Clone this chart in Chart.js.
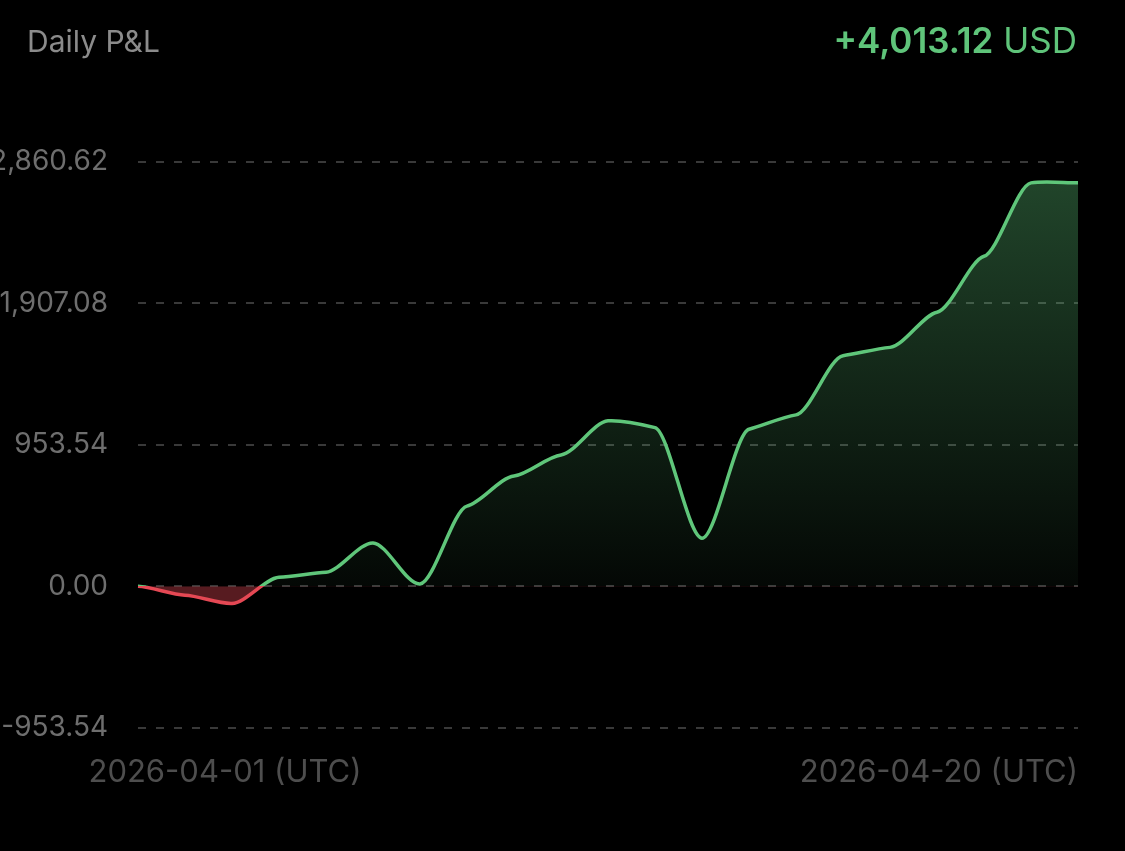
<!DOCTYPE html>
<html>
<head>
<meta charset="utf-8">
<script src="https://cdn.jsdelivr.net/npm/chart.js@4.4.1/dist/chart.umd.min.js"></script>
<style>
  html, body { margin: 0; padding: 0; background: #000; width: 1125px; height: 851px; overflow: hidden; }
  #c { position: absolute; left: 0; top: 0; }
  .hdr { position: absolute; line-height: 1; white-space: nowrap; font-family: Inter, "Noto Sans", sans-serif; }
  #title { left: 27px; top: 26px; font-size: 30px; color: #8b8b8b; }
  #total { right: 48px; top: 23px; font-size: 35px; color: #5fc47a; }
  #total b { font-weight: 600; }
</style>
</head>
<body>
<canvas id="c" width="1125" height="851"></canvas>
<div id="title" class="hdr"></div>
<div id="total" class="hdr"><b id="totalVal"></b> <span id="totalCur"></span></div>
<script>
// ---- data ----
const titleText = 'Daily P&L';
const totalValue = '+4,013.12';
const totalCurrency = 'USD';

const dates = [
  '2026-03-31', '2026-04-01', '2026-04-02', '2026-04-03', '2026-04-04', '2026-04-05',
  '2026-04-06', '2026-04-07', '2026-04-08', '2026-04-09', '2026-04-10', '2026-04-11',
  '2026-04-12', '2026-04-13', '2026-04-14', '2026-04-15', '2026-04-16', '2026-04-17',
  '2026-04-18', '2026-04-19', '2026-04-20'
];
const pnl = [
  0, -60, -115, 61, 95, 293, 16, 541, 744, 886, 1116,
  1070, 325, 1059, 1156, 1555, 1611, 1848, 2225, 2720, 2720
];
const yTicks = [-953.54, 0, 953.54, 1907.08, 2860.62];
const firstTickIndex = 1;
const lastTickIndex = 20;
const tickSuffix = ' (UTC)';

// ---- styles ----
const GREEN = 'rgb(95,198,122)';
const RED = 'rgb(229,72,84)';
const FONT = 'Inter, "Noto Sans", sans-serif';
const HANDLE = 0.3;   // control-handle length as a fraction of point spacing
const SLOPE = 0.2;    // fraction of the neighbouring slope kept at each point

document.getElementById('title').textContent = titleText;
document.getElementById('totalVal').textContent = totalValue;
document.getElementById('totalCur').textContent = totalCurrency;

function lineGradient(ctx) {
  const chart = ctx.chart;
  const a = chart.chartArea;
  if (!a) return GREEN;
  const z = chart.scales.y.getPixelForValue(0);
  const f = Math.min(1, Math.max(0, (z - a.top) / (a.bottom - a.top)));
  const g = chart.ctx.createLinearGradient(0, a.top, 0, a.bottom);
  g.addColorStop(0, GREEN);
  g.addColorStop(f, GREEN);
  g.addColorStop(f, RED);
  g.addColorStop(1, RED);
  return g;
}
function fillGradient(ctx) {
  const chart = ctx.chart;
  const a = chart.chartArea;
  if (!a) return 'rgba(95,198,122,0.2)';
  const z = chart.scales.y.getPixelForValue(0);
  const g = chart.ctx.createLinearGradient(0, a.top, 0, z);
  g.addColorStop(0, 'rgba(95,198,122,0.36)');
  g.addColorStop(1, 'rgba(95,198,122,0.04)');
  return g;
}

// softened curve: short, nearly flat handles at each point (from the library's own point elements)
const softCurvePlugin = {
  id: 'softCurve',
  beforeDatasetsDraw(chart) {
    chart.getSortedVisibleDatasetMetas().forEach(meta => {
      const pts = meta.data;
      for (let i = 0; i < pts.length; i++) {
        const p = pts[i];
        const prev = pts[i - 1] || p;
        const next = pts[i + 1] || p;
        const span = next.x - prev.x;
        const m = span ? SLOPE * (next.y - prev.y) / span : 0;
        const d1 = HANDLE * (p.x - prev.x);
        const d2 = HANDLE * (next.x - p.x);
        p.cp1x = p.x - d1; p.cp1y = p.y - m * d1;
        p.cp2x = p.x + d2; p.cp2y = p.y + m * d2;
      }
      if (meta.dataset) meta.dataset._path = undefined;
    });
  }
};

// put the two bottom category axes on the same row
const overlayAxisPlugin = {
  id: 'overlayAxis',
  afterLayout(chart) {
    const { x, x2 } = chart.scales;
    x2.top = x.top; x2.bottom = x.bottom; x2.height = x.height;
  }
};

const xTickFont = { family: FONT, size: 31 };
const fmtDate = i => dates[i] + tickSuffix;

new Chart(document.getElementById('c'), {
  type: 'line',
  data: {
    labels: dates,
    datasets: [{
      data: pnl,
      borderColor: lineGradient,
      backgroundColor: fillGradient,
      borderWidth: 3.5,
      pointRadius: 0,
      tension: 0.4,
      fill: { target: 'origin', below: 'rgba(229,72,84,0.38)' }
    }]
  },
  plugins: [overlayAxisPlugin, softCurvePlugin],
  options: {
    responsive: false,
    animation: false,
    devicePixelRatio: 1,
    layout: { padding: { top: 162, right: 47, bottom: 34, left: 0 } },
    plugins: { legend: { display: false }, tooltip: { enabled: false } },
    scales: {
      x: {
        weight: 0,
        grid: { display: false, drawTicks: false },
        border: { display: false },
        ticks: {
          autoSkip: false, maxRotation: 0, minRotation: 0,
          align: 'inner', padding: 26,
          color: '#4e4e4e', font: xTickFont,
          callback: (v, i) => i === lastTickIndex ? fmtDate(i) : ''
        }
      },
      x2: {
        type: 'category',
        position: 'bottom',
        weight: 1,
        afterFit: s => { s.height = 0; },
        grid: { display: false, drawTicks: false },
        border: { display: false },
        ticks: {
          autoSkip: false, maxRotation: 0, minRotation: 0,
          padding: 26, labelOffset: 40,
          color: '#4e4e4e', font: xTickFont,
          callback: (v, i) => i === firstTickIndex ? fmtDate(i) : ''
        }
      },
      y: {
        min: yTicks[0],
        max: yTicks[yTicks.length - 1],
        afterBuildTicks: s => { s.ticks = yTicks.map(v => ({ value: v })); },
        afterFit: s => { s.width = 138; },
        grid: { color: '#393939', lineWidth: 2, drawTicks: false },
        border: { display: false, dash: [8, 10] },
        ticks: {
          padding: 30,
          color: '#6e6e6e',
          font: { family: FONT, size: 28 },
          callback: v => Number(v).toLocaleString('en-US', { minimumFractionDigits: 2, maximumFractionDigits: 2 })
        }
      }
    }
  }
});
</script>
</body>
</html>
